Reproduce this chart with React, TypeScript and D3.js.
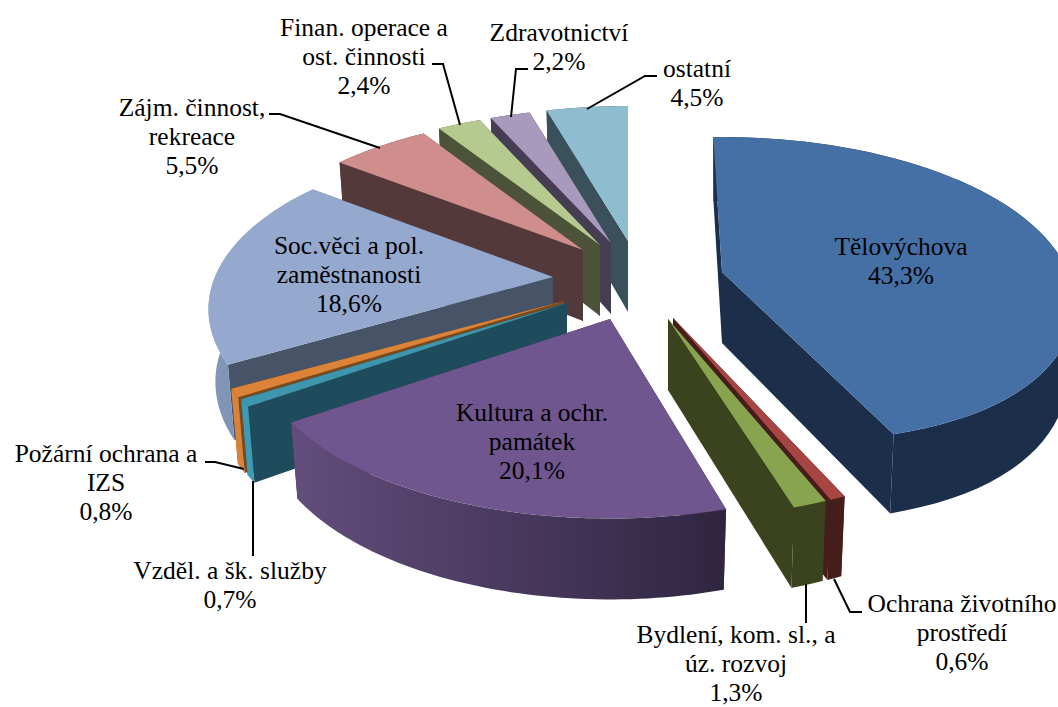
import * as d3 from 'd3';
import React from 'react';

// values
const categories = ['Tělovýchova', 'Ochrana životního prostředí', 'Bydlení, kom. sl., a úz. rozvoj', 'Kultura a ochr. památek', 'Vzděl. a šk. služby', 'Požární ochrana a IZS', 'Soc.věci a pol. zaměstnanosti', 'Zájm. činnost, rekreace', 'Finan. operace a ost. činnosti', 'Zdravotnictví', 'ostatní'];
const values = [43.3, 0.6, 1.3, 20.1, 0.7, 0.8, 18.6, 5.5, 2.4, 2.2, 4.5];
const labelLines = [
  ['Tělovýchova'], ['Ochrana životního', 'prostředí'], ['Bydlení, kom. sl., a', 'úz. rozvoj'], ['Kultura a ochr.', 'památek'],
  ['Vzděl. a šk. služby'], ['Požární ochrana a', 'IZS'], ['Soc.věci a pol.', 'zaměstnanosti'], ['Zájm. činnost,', 'rekreace'],
  ['Finan. operace a', 'ost. činnosti'], ['Zdravotnictví'], ['ostatní'],
];

// colours
const topColors = ['#4470a6', '#a74542', '#88a44f', '#70568e', '#3e96ae', '#dd8337', '#95a9cf', '#cf8d8c', '#b6ca8f', '#a89abc', '#8fbdd0'];
const innerColors = ['#1b2f4a', '#451e1c', '#3a421e', '#3c2e50', '#1f4c5c', '#7a4a1f', '#475468', '#53393a', '#4c5338', '#453d52', '#3a505a'];
const rimColors = ['#1b2f4a', '#451e1c', '#3a421e', 'url(#kulturaRim)', '#3f9ab3', '#d9833a', 'url(#socRim)', '#53393a', '#4c5338', '#453d52', '#3a505a'];

// layout of the exploded slices
const apexX = [722, 673, 668, 610, 567, 564, 553, 583, 600, 611, 628];
const apexY = [272, 318, 319, 319, 303, 301, 277, 250, 245, 243, 241];
const startNudge = [-0.03, 0, 0, 0.025, 0, 0, 0, 0, 0, 0, 0];
const frontSag = [0.13, 0, 0, 0, 0, 0, 0, 0, 0, 0, 0];
const widthScale = [1, 1, 1, 1, 1, 1, 0.977, 0.99, 1, 1, 1];
const drawOrder = [10, 9, 8, 7, 6, 5, 4, 0, 1, 2, 3];
const labelX = [901, 962, 736, 532, 230, 106, 349, 192, 364, 559, 697];
const labelY = [255, 612, 643, 421, 579, 462, 254, 116, 36, 41, 77];
const leaders: [number, number][][] = [
  [], [[862, 612], [850, 612], [834, 579]], [[806, 623], [806, 584]], [],
  [[253, 556], [253, 481]], [[205, 462], [215, 462], [244, 469]], [],
  [[269, 114], [280, 114], [380, 148]], [[432, 64], [443, 64], [460, 125]],
  [[528, 69], [516, 69], [511, 117]], [[657, 76], [645, 76], [587, 109]],
];

const RX = 346;
const RY = 161;
const TILT = 0.193;
const DEPTH = 71;
const lineHeight = 29;

const pie = d3.pie<number>().sort(null).value((d) => d);
const arcs = pie(values);

function rimPoint(i: number, a: number, lower: boolean): [number, number] {
  const w = 1 + TILT * Math.cos(a);
  const dx = (widthScale[i] * RX * Math.sin(a)) / w;
  let dy = (-RY * Math.cos(a)) / w;
  if (dy > 0) dy *= 1 - frontSag[i] * Math.pow(-Math.cos(a), 4);
  return lower
    ? [apexX[i] + 0.98 * dx, apexY[i] + DEPTH + 1.05 * dy]
    : [apexX[i] + dx, apexY[i] + dy];
}

const path = d3.line();

export default function App() {
  const slices = drawOrder.map((i) => {
    const a0 = arcs[i].startAngle + startNudge[i];
    const a1 = arcs[i].endAngle;
    const angles = d3.range(0, 61).map((k) => a0 + ((a1 - a0) * k) / 60);
    const upper = angles.map((a) => rimPoint(i, a, false));
    const lower = angles.map((a) => rimPoint(i, a, true));
    const apex: [number, number] = [apexX[i], apexY[i]];
    const apexLow: [number, number] = [apexX[i], apexY[i] + DEPTH];
    return (
      <g key={categories[i]}>
        <path d={path([apex, upper[0], lower[0], apexLow])! + 'Z'} fill={innerColors[i]} />
        <path d={path([apex, upper[60], lower[60], apexLow])! + 'Z'} fill={innerColors[i]} />
        <path d={path([...upper, ...[...lower].reverse()])! + 'Z'} fill={rimColors[i]} />
        <path d={path([apex, ...upper])! + 'Z'} fill={topColors[i]} />
      </g>
    );
  });

  return (
    <svg width={1058} height={707} style={{ position: 'absolute', left: 0, top: 0 }}>
      <defs>
        <linearGradient id="kulturaRim" gradientUnits="userSpaceOnUse" x1={293} x2={727} y1={0} y2={0}>
          <stop offset="0" stopColor="#624d7c" />
          <stop offset="1" stopColor="#2f2540" />
        </linearGradient>
        <linearGradient id="socRim" gradientUnits="userSpaceOnUse" x1={208} x2={240} y1={0} y2={0}>
          <stop offset="0" stopColor="#8599bb" />
          <stop offset="1" stopColor="#7d91b3" />
        </linearGradient>
      </defs>
      {slices}
      {leaders.map((pts, i) => pts.length > 0 && (
        <path key={i} d={path(pts)!} fill="none" stroke="#000" strokeWidth={2} />
      ))}
      {categories.map((c, i) => (
        <text key={c} textAnchor="middle" fontFamily="'Liberation Serif', serif" fontSize={25.5} fill="#000">
          {[...labelLines[i], String(values[i]).replace('.', ',') + '%'].map((line, k) => (
            <tspan key={k} x={labelX[i]} y={labelY[i] + k * lineHeight}>{line}</tspan>
          ))}
        </text>
      ))}
    </svg>
  );
}
